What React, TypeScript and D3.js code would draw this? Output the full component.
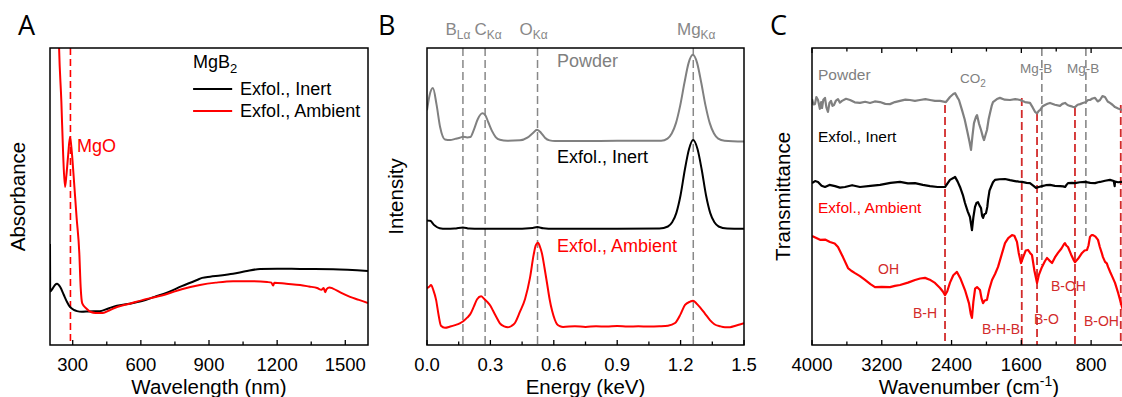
import React from 'react';
import * as d3 from 'd3';

type Pt = [number, number];

// ---------- A: UV-vis absorbance (nm, a.u.) ----------
const uvInert: Pt[] = [
  [200, 34], [201, 18], [210, 18.8], [222, 20.2], [231, 20.6], [245, 19.5], [260, 17], [275, 14.5],
  [288, 12.8], [305, 11.8], [319, 11.4], [340, 11.2], [370, 11.3], [420, 11.4], [460, 12.4], [495, 13.2],
  [550, 13.9], [605, 14.8], [660, 16.2], [715, 17.6], [780, 19.8], [847, 21.9], [870, 22.6], [905, 23.0],
  [950, 23.4], [1006, 24.0], [1060, 24.8], [1125, 25.6], [1200, 25.7], [1301, 25.6], [1446, 25.5], [1600, 24.9],
];
const uvAmbient: Pt[] = [
  [232, 130], [240, 100], [250, 82], [258, 64], [266, 53.2], [272, 57], [280, 64], [288, 70], [296, 65],
  [303, 58], [317, 43], [329, 31], [335, 19.5], [342, 14], [361, 12.2], [380, 11.1], [400, 10.8], [433, 10.8],
  [460, 11.6], [495, 12.8], [550, 13.9], [610, 15.2], [660, 16.1], [715, 17.2], [780, 18.8], [860, 20.2],
  [930, 21.0], [1006, 21.5], [1080, 21.5], [1156, 21.2], [1175, 21.0], [1182, 20.0], [1188, 21.0], [1240, 20.6],
  [1301, 20.2], [1340, 19.7], [1376, 19.2], [1395, 18.6], [1405, 19.2], [1411, 17.8], [1418, 18.8], [1430, 19.4],
  [1446, 19.0], [1480, 17.6], [1521, 16.2], [1560, 15.2], [1600, 14.1],
];
const uvTicks = [300, 600, 900, 1200, 1500];
const uvMinor = [450, 750, 1050, 1350];
const mgoLine = 290;

// ---------- B: EDS (keV, a.u.) ----------
const edsPowder: Pt[] = [
  [0, 79], [0.012, 84], [0.028, 86.5], [0.045, 81], [0.062, 73.4], [0.085, 69.2], [0.11, 69.0], [0.133, 69.4],
  [0.155, 69.8], [0.17, 70.1], [0.19, 69.9], [0.205, 70.0], [0.222, 72.5], [0.24, 76], [0.262, 78], [0.275, 77.5],
  [0.29, 75], [0.308, 72.0], [0.325, 70.0], [0.345, 69.1], [0.38, 68.8], [0.44, 68.9], [0.475, 69.8], [0.5, 71.3],
  [0.521, 72.5], [0.54, 71.4], [0.558, 69.8], [0.58, 68.9], [0.606, 68.7], [0.8, 68.7], [1.0, 68.8], [1.108, 68.8],
  [1.138, 69.5], [1.158, 71.2], [1.178, 74.7], [1.198, 80.6], [1.218, 88.2], [1.238, 95], [1.258, 97.7],
  [1.278, 95], [1.298, 88.2], [1.318, 80.6], [1.338, 74.7], [1.358, 71.2], [1.378, 69.5], [1.408, 68.8], [1.5, 68.5],
];
const edsInert: Pt[] = [
  [0, 41.9], [0.015, 41.8], [0.035, 40.3], [0.06, 39.3], [0.09, 39.1], [0.13, 39.2], [0.17, 39.6], [0.2, 39.2],
  [0.25, 39.1], [0.4, 39.1], [0.5, 39.4], [0.522, 39.7], [0.55, 39.3], [0.6, 39.1], [0.9, 39.1], [1.1, 39.2],
  [1.14, 39.9], [1.16, 41.3], [1.18, 44.5], [1.2, 50.5], [1.22, 59], [1.24, 66], [1.259, 69], [1.28, 66],
  [1.3, 59], [1.32, 50.5], [1.34, 44.5], [1.36, 41.3], [1.38, 39.9], [1.42, 39.2], [1.5, 39.1],
];
const edsAmbient: Pt[] = [
  [0, 19.1], [0.01, 19.6], [0.019, 20.2], [0.03, 18.5], [0.043, 15.2], [0.055, 10], [0.066, 6.5], [0.085, 5.8],
  [0.11, 6.2], [0.133, 6.7], [0.155, 7.3], [0.17, 7.9], [0.19, 9.2], [0.204, 10.3], [0.222, 13], [0.237, 15.4],
  [0.256, 16.4], [0.27, 15.6], [0.284, 14.6], [0.3, 13.2], [0.312, 11.6], [0.33, 9.2], [0.345, 7.3], [0.365, 6.3],
  [0.383, 6.0], [0.4, 6.4], [0.416, 7.4], [0.44, 11.2], [0.464, 15.5], [0.487, 22.5], [0.505, 30.5], [0.515, 33.6],
  [0.525, 34.4], [0.535, 33.0], [0.544, 30.8], [0.556, 26], [0.568, 20.8], [0.58, 15.5], [0.592, 11.5], [0.605, 8.5],
  [0.615, 7.0], [0.63, 6.3], [0.644, 6.1], [0.7, 6.3], [0.75, 6.1], [0.8, 6.3], [0.85, 6.2], [0.9, 6.4], [0.95, 6.2],
  [1.0, 6.3], [1.05, 6.2], [1.1, 6.3], [1.14, 6.5], [1.174, 7.4], [1.2, 10.4], [1.221, 13.5], [1.245, 14.6],
  [1.259, 14.9], [1.275, 14.0], [1.293, 12.6], [1.315, 10.6], [1.34, 8.3], [1.36, 7.0], [1.387, 6.3], [1.41, 6.0],
  [1.434, 6.0], [1.46, 6.5], [1.48, 6.9], [1.5, 7.3],
];
const edsTicks = [0, 0.3, 0.6, 0.9, 1.2, 1.5];
const edsMinor = [0.15, 0.45, 0.75, 1.05, 1.35];
const edsLines = [
  { el: 'B', sub: 'Lα', e: 0.17, dx: -5 },
  { el: 'C', sub: 'Kα', e: 0.275, dx: 3 },
  { el: 'O', sub: 'Kα', e: 0.523, dx: -4 },
  { el: 'Mg', sub: 'Kα', e: 1.26, dx: 3 },
];

// ---------- C: FTIR (cm-1, a.u.) ----------
const irPowder: Pt[] = [
  [4000, 82.8], [3983, 81.0], [3966, 81.1], [3950, 83.5], [3931, 82.5], [3910, 79.5], [3895, 81.8], [3885, 79.8],
  [3870, 82.6], [3851, 83.2], [3835, 80.0], [3817, 78.5], [3800, 81.5], [3782, 82.2], [3765, 80.5], [3748, 80.8],
  [3725, 82.3], [3702, 82.8], [3680, 81.6], [3656, 82.2], [3610, 82.9], [3564, 82.5], [3510, 81.7], [3450, 81.5],
  [3390, 81.9], [3335, 81.5], [3280, 82.0], [3220, 81.8], [3160, 81.2], [3106, 81.1], [3050, 81.8], [2991, 82.2],
  [2930, 82.6], [2876, 82.5], [2820, 82.2], [2762, 82.5], [2700, 82.8], [2647, 82.5], [2590, 82.2], [2532, 82.2],
  [2464, 81.8], [2418, 83.5], [2380, 84.5], [2360, 84.8], [2330, 83.2], [2315, 82.5], [2280, 79.1], [2250, 76.0],
  [2223, 72.4], [2195, 68.5], [2177, 65.7], [2160, 70.5], [2143, 74.7], [2120, 76.8], [2108, 77.4], [2085, 74.5],
  [2062, 72.4], [2040, 70.0], [2028, 69.0], [2010, 70.8], [1994, 72.4], [1975, 76.0], [1959, 78.1], [1940, 80.5],
  [1925, 81.8], [1880, 82.8], [1845, 83.2], [1790, 82.6], [1730, 82.5], [1670, 82.8], [1615, 82.5], [1558, 81.8],
  [1501, 81.5], [1470, 80.0], [1443, 78.5], [1420, 78.0], [1400, 78.8], [1386, 79.1], [1355, 80.4], [1329, 80.8],
  [1300, 81.2], [1271, 81.5], [1215, 80.9], [1157, 80.5], [1130, 81.2], [1099, 81.5], [1070, 80.8], [1042, 80.5],
  [1010, 80.2], [985, 80.1], [955, 80.9], [927, 81.1], [895, 81.5], [859, 81.8], [835, 82.5], [813, 82.5],
  [785, 83.0], [755, 83.2], [725, 82.0], [698, 82.5], [670, 83.8], [641, 83.5], [610, 82.0], [584, 81.5],
  [555, 80.9], [526, 80.1], [490, 79.6], [446, 79.1], [400, 78.8],
];
const irInert: Pt[] = [
  [4000, 54.5], [3965, 55.2], [3931, 54.9], [3890, 53.6], [3851, 53.2], [3800, 53.9], [3736, 53.5], [3680, 53.0],
  [3622, 53.2], [3540, 53.8], [3450, 53.2], [3330, 53.6], [3220, 53.9], [3100, 54.6], [2991, 54.9], [2900, 54.4],
  [2819, 54.5], [2730, 53.9], [2647, 53.5], [2560, 53.2], [2475, 53.2], [2418, 55.6], [2380, 56.2], [2360, 56.6],
  [2330, 55.0], [2303, 53.2], [2270, 50.5], [2246, 47.8], [2215, 45.0], [2189, 43.1], [2166, 38.7], [2150, 43.0],
  [2131, 46.5], [2115, 47.8], [2097, 48.1], [2080, 47.0], [2062, 46.1], [2050, 43.5], [2039, 42.8], [2025, 44.0],
  [2005, 44.4], [1990, 46.5], [1982, 48.8], [1965, 52.0], [1948, 53.2], [1925, 54.8], [1902, 55.6], [1850, 55.8],
  [1787, 55.9], [1730, 55.5], [1673, 55.2], [1630, 55.0], [1592, 54.9], [1540, 54.6], [1501, 54.5], [1460, 53.6],
  [1432, 52.9], [1400, 53.2], [1363, 53.5], [1320, 53.8], [1271, 53.9], [1215, 53.6], [1157, 53.5], [1120, 53.4],
  [1099, 53.2], [1080, 54.0], [1065, 54.5], [1020, 54.6], [985, 54.5], [930, 54.8], [870, 54.9], [810, 54.6],
  [755, 54.5], [720, 54.8], [698, 54.9], [640, 55.3], [584, 55.6], [540, 55.2], [530, 53.5], [526, 55.0],
  [490, 54.8], [446, 54.9], [400, 54.6],
];
const irAmbient: Pt[] = [
  [4000, 36.7], [3950, 36.0], [3908, 35.4], [3850, 35.5], [3794, 34.7], [3740, 34.2], [3702, 33.0], [3645, 29.6],
  [3587, 25.9], [3550, 25.0], [3507, 24.2], [3450, 23.2], [3392, 21.9], [3330, 20.5], [3278, 19.5], [3200, 19.6],
  [3106, 19.5], [3050, 19.9], [2991, 20.2], [2900, 21.0], [2819, 21.9], [2760, 22.4], [2704, 22.6], [2650, 22.0],
  [2590, 20.9], [2532, 19.2], [2500, 18.0], [2475, 16.8], [2450, 18.0], [2418, 21.0], [2380, 23.5], [2338, 24.6],
  [2300, 22.5], [2246, 18.5], [2200, 14.0], [2180, 10.5], [2166, 9.1], [2150, 14.5], [2130, 19.0], [2108, 19.5],
  [2074, 18.5], [2055, 15.5], [2039, 14.1], [2020, 15.0], [1994, 15.2], [1970, 18.5], [1936, 21.9], [1900, 24.0],
  [1867, 26.3], [1830, 30.0], [1787, 34.3], [1750, 36.0], [1707, 37.0], [1680, 36.8], [1650, 34.7], [1630, 31.0],
  [1604, 27.6], [1580, 29.5], [1550, 31.8], [1524, 32.0], [1500, 31.0], [1478, 30.3], [1450, 25.0], [1420, 20.9],
  [1400, 23.5], [1363, 26.3], [1330, 28.2], [1306, 29.3], [1280, 28.5], [1248, 27.6], [1215, 29.5], [1180, 31.0],
  [1140, 32.5], [1110, 34.0], [1099, 34.3], [1085, 33.5], [1065, 33.0], [1030, 30.5], [1000, 28.6], [985, 27.9],
  [950, 29.0], [904, 31.0], [875, 31.8], [847, 32.0], [830, 33.5], [813, 36.4], [795, 37.0], [778, 37.0],
  [750, 36.5], [721, 35.4], [700, 33.0], [680, 31.2], [664, 29.6], [640, 28.0], [620, 27.5], [606, 26.3],
  [580, 24.5], [560, 23.2], [526, 20.9], [490, 17.5], [446, 12.8], [400, 8.5],
];
const irTicks = [4000, 3200, 2400, 1600, 800];
const irMinor = [3600, 2800, 2000, 1200, 400];
// red assignment lines: [wavenumber, top of dash]
const irRedLines: Pt[] = [[2475, 80.8], [1595, 83.2], [1420, 78.1], [985, 79.8], [460, 80.8]];
// grey Mg-B lines: [wavenumber, bottom of dash]
const irGrayLines: Pt[] = [[1365, 26.9], [860, 36.4]];
const irBands = [
  { t: 'OH', wn: 3243, v: 23.9 },
  { t: 'B-H', wn: 2842, v: 9.1 },
  { t: 'B-H-B', wn: 2051, v: 3.7 },
  { t: 'B-O', wn: 1455, v: 7.1 },
  { t: 'B-OH', wn: 1260, v: 18.2 },
  { t: 'B-OH', wn: 882, v: 6.4 },
];

const TOP = 48;
const BOTTOM = 345;
const FONT = '"Liberation Sans", Arial, sans-serif';
const GRAY = '#808080';
const RED = '#ff0000';
const DARKRED = '#d22b2b';

type Sc = d3.ScaleLinear<number, number>;

function Curve({ data, x, y, color, clip, curve = d3.curveMonotoneX, w = 2 }: any) {
  const line = d3.line<Pt>().x(d => x(d[0])).y(d => y(d[1])).curve(curve);
  return <path d={line(data) || ''} fill="none" stroke={color} strokeWidth={w} strokeLinejoin="round" clipPath={`url(#${clip})`} />;
}

function Panel(props: any) {
  const { id, domain, left, right, ticks, minor, fmt, topTicks, xTitle, yTitle, yTitleX, letter, letterX, children } = props;
  const x: Sc = d3.scaleLinear().domain(domain).range([left, right]);
  const y: Sc = d3.scaleLinear().domain([0, 100]).range([BOTTOM, TOP]);
  const tickMarks = (ys: number, dir: number) => (
    <g stroke="#000" strokeWidth={1.3}>
      {ticks.map((t: number) => <line key={'M' + t} x1={x(t)} x2={x(t)} y1={ys} y2={ys + dir * 5} />)}
      {minor.map((t: number) => <line key={'m' + t} x1={x(t)} x2={x(t)} y1={ys} y2={ys + dir * 3.5} />)}
    </g>
  );
  return (
    <g>
      <defs>
        <clipPath id={id}>
          <rect x={left} y={TOP} width={right - left} height={BOTTOM - TOP} />
        </clipPath>
      </defs>
      {children(x, y, id)}
      <rect x={left} y={TOP} width={right - left} height={BOTTOM - TOP} fill="none" stroke="#000" strokeWidth={1.5} />
      {tickMarks(BOTTOM, -1)}
      {topTicks && tickMarks(TOP, 1)}
      {ticks.map((t: number) => (
        <text key={t} x={x(t)} y={371} textAnchor="middle" fontSize={18.5}>{fmt(t)}</text>
      ))}
      <text x={(left + right) / 2} y={394} textAnchor="middle" fontSize={20.5}>{xTitle}</text>
      <text transform={`translate(${yTitleX},${(TOP + BOTTOM) / 2}) rotate(-90)`} textAnchor="middle" fontSize={20.5}>{yTitle}</text>
      <text x={letterX} y={35} fontSize={27} fontFamily='"Open Sans", sans-serif'>{letter}</text>
    </g>
  );
}

export default function App() {
  return (
    <svg width={1122} height={397} style={{ position: 'absolute', left: 0, top: 0, background: '#fff' }} fontFamily={FONT}>
      <Panel id="clipA" domain={[200, 1600]} left={50} right={368} ticks={uvTicks} minor={uvMinor} fmt={String}
        xTitle="Wavelength (nm)" yTitle="Absorbance" yTitleX={25} letter="A" letterX={18}>
        {(x: Sc, y: Sc, clip: string) => (
          <g>
            <line x1={x(mgoLine)} x2={x(mgoLine)} y1={TOP} y2={BOTTOM} stroke={RED} strokeWidth={1.6} strokeDasharray="7,4" />
            <Curve data={uvInert} x={x} y={y} color="#000" clip={clip} />
            <Curve data={uvAmbient} x={x} y={y} color={RED} clip={clip} />
            <text x={x(319)} y={y(65)} fill={RED} fontSize={18}>MgO</text>
            <text x={x(830)} y={y(93.3)} fontSize={18}>MgB<tspan fontSize={13} dy={5}>2</tspan></text>
            <line x1={x(830)} x2={x(1002)} y1={y(86.2)} y2={y(86.2)} stroke="#000" strokeWidth={2} />
            <line x1={x(830)} x2={x(1002)} y1={y(78.8)} y2={y(78.8)} stroke={RED} strokeWidth={2} />
            <text x={x(1037)} y={y(84.2)} fontSize={18}>Exfol., Inert</text>
            <text x={x(1037)} y={y(76.8)} fontSize={18}>Exfol., Ambient</text>
          </g>
        )}
      </Panel>

      <Panel id="clipB" domain={[0, 1.5]} left={427} right={744} ticks={edsTicks} minor={edsMinor} fmt={d3.format('.1f')}
        xTitle="Energy (keV)" yTitle="Intensity" yTitleX={403} letter="B" letterX={378}>
        {(x: Sc, y: Sc, clip: string) => (
          <g>
            {edsLines.map(l => (
              <g key={l.el}>
                <line x1={x(l.e)} x2={x(l.e)} y1={TOP} y2={BOTTOM} stroke="#888" strokeWidth={1.5} strokeDasharray="8,4" />
                <text x={x(l.e) + l.dx} y={35} textAnchor="middle" fill="#888" fontSize={17}>
                  {l.el}<tspan fontSize={12} dy={4}>{l.sub}</tspan>
                </text>
              </g>
            ))}
            <Curve data={edsPowder} x={x} y={y} color={GRAY} clip={clip} />
            <Curve data={edsInert} x={x} y={y} color="#000" clip={clip} />
            <Curve data={edsAmbient} x={x} y={y} color={RED} clip={clip} />
            <text x={x(0.615)} y={y(93.6)} fill={GRAY} fontSize={18}>Powder</text>
            <text x={x(0.615)} y={y(61.3)} fontSize={18}>Exfol., Inert</text>
            <text x={x(0.615)} y={y(31.3)} fill={RED} fontSize={18}>Exfol., Ambient</text>
          </g>
        )}
      </Panel>

      <Panel id="clipC" domain={[4000, 400]} left={812} right={1126} ticks={irTicks} minor={irMinor} fmt={String} topTicks
        xTitle={<>Wavenumber (cm<tspan fontSize={14} dy={-8}>-1</tspan><tspan dy={8}>)</tspan></>}
        yTitle="Transmittance" yTitleX={790} letter="C" letterX={770}>
        {(x: Sc, y: Sc, clip: string) => (
          <g>
            {irGrayLines.map(([wn, b]) => (
              <line key={wn} x1={x(wn)} x2={x(wn)} y1={TOP} y2={y(b)} stroke="#888" strokeWidth={1.6} strokeDasharray="8,4" />
            ))}
            {irRedLines.map(([wn, t]) => (
              <line key={wn} x1={x(wn)} x2={x(wn)} y1={y(t)} y2={BOTTOM} stroke={DARKRED} strokeWidth={1.8} strokeDasharray="8,4" />
            ))}
            <Curve data={irPowder} x={x} y={y} color={GRAY} clip={clip} curve={d3.curveLinear} w={2.2} />
            <Curve data={irInert} x={x} y={y} color="#000" clip={clip} curve={d3.curveLinear} w={2.2} />
            <Curve data={irAmbient} x={x} y={y} color={RED} clip={clip} curve={d3.curveLinear} w={2.2} />
            <text x={x(3931)} y={y(89.2)} fill={GRAY} fontSize={15.5}>Powder</text>
            <text x={x(2303)} y={y(88.2)} fill={GRAY} fontSize={13.5}>CO<tspan fontSize={10} dy={4}>2</tspan></text>
            <text x={x(1615)} y={y(91.6)} fill={GRAY} fontSize={13.5}>Mg-B</text>
            <text x={x(1076)} y={y(91.6)} fill={GRAY} fontSize={13.5}>Mg-B</text>
            <text x={x(3931)} y={y(68.4)} fontSize={15.5}>Exfol., Inert</text>
            <text x={x(3931)} y={y(44.4)} fill={RED} fontSize={15.5}>Exfol., Ambient</text>
            {irBands.map(b => (
              <text key={b.t + b.wn} x={x(b.wn)} y={y(b.v)} fill={DARKRED} fontSize={14}>{b.t}</text>
            ))}
          </g>
        )}
      </Panel>
    </svg>
  );
}
